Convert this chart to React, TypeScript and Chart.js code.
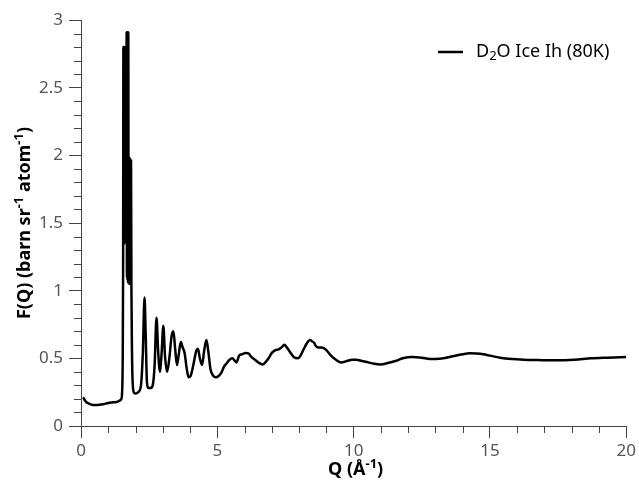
import React, { useEffect, useRef } from "react";
import { Chart, registerables } from "chart.js";

Chart.register(...registerables);

const SERIES_NAME = "D₂O Ice Ih (80K)";

const Q_VALUES = [
  0.07, 0.1, 0.14, 0.2, 0.3, 0.45, 0.6, 0.8, 1.0, 1.2, 1.35, 1.43, 1.48,
  1.51, 1.53, 1.545, 1.555, 1.565, 1.575, 1.585, 1.595, 1.605, 1.615, 1.625,
  1.635, 1.645, 1.655, 1.665, 1.675, 1.685, 1.695, 1.705, 1.715, 1.725, 1.735,
  1.745, 1.755, 1.765, 1.775, 1.785, 1.795, 1.805, 1.815, 1.825, 1.835, 1.85,
  1.87, 1.9, 1.95, 2.0, 2.1, 2.2, 2.27, 2.33, 2.37, 2.42, 2.47, 2.55, 2.63,
  2.7, 2.77, 2.83, 2.9, 2.96, 3.02, 3.08, 3.16, 3.25, 3.32, 3.39, 3.45, 3.52,
  3.58, 3.66, 3.73, 3.8, 3.88, 3.95, 4.02, 4.12, 4.22, 4.29, 4.36, 4.44, 4.52,
  4.6, 4.67, 4.75, 4.85, 4.95, 5.05, 5.14, 5.25, 5.33, 5.45, 5.55, 5.65, 5.7,
  5.8, 5.9, 6.05, 6.15, 6.25, 6.38, 6.5, 6.67, 6.8, 6.88, 7.0, 7.13, 7.25,
  7.35, 7.46, 7.55, 7.69, 7.8, 7.96, 8.05, 8.15, 8.28, 8.4, 8.48, 8.55, 8.62,
  8.7, 8.82, 8.9, 9.0, 9.17, 9.35, 9.54, 9.75, 9.95, 10.1, 10.3, 10.53, 10.75,
  11.0, 11.25, 11.53, 11.8, 12.15, 12.5, 12.8, 13.0, 13.3, 13.64, 14.0, 14.25,
  14.5, 14.75, 15.0, 15.37, 15.8, 16.23, 16.8, 17.48, 18.1, 18.72, 19.3, 20.0,
];

const F_VALUES = [
  0.21, 0.205, 0.19, 0.175, 0.165, 0.155, 0.155, 0.16, 0.17, 0.175, 0.18, 0.19, 0.2,
  0.26, 0.5, 1.2, 2.8, 1.34, 2.8, 1.36, 2.8, 1.35, 2.79, 1.4,
  2.8, 1.38, 2.81, 1.4, 2.91, 1.1, 2.91, 1.08, 2.9, 1.06, 2.91,
  1.06, 1.98, 1.05, 1.97, 1.06, 1.98, 1.05, 1.97, 1.08, 1.96, 1.0,
  0.55, 0.3, 0.245, 0.24, 0.25, 0.3, 0.55, 0.95, 0.7, 0.32, 0.28, 0.28, 0.3,
  0.45, 0.8, 0.55, 0.4, 0.55, 0.74, 0.52, 0.4, 0.52, 0.66, 0.7, 0.58, 0.45,
  0.52, 0.62, 0.58, 0.54, 0.42, 0.36, 0.37, 0.45, 0.55, 0.57, 0.5, 0.45, 0.56,
  0.635, 0.55, 0.42, 0.37, 0.36, 0.37, 0.39, 0.44, 0.46, 0.49, 0.5, 0.48, 0.47,
  0.52, 0.53, 0.54, 0.535, 0.51, 0.49, 0.47, 0.455, 0.48, 0.5, 0.54, 0.56, 0.567,
  0.58, 0.6, 0.58, 0.54, 0.51, 0.5, 0.52, 0.56, 0.61, 0.635, 0.625, 0.615, 0.59,
  0.58, 0.58, 0.575, 0.56, 0.52, 0.49, 0.47, 0.48, 0.49, 0.49, 0.48, 0.47, 0.46,
  0.455, 0.465, 0.48, 0.5, 0.51, 0.505, 0.495, 0.495, 0.5, 0.515, 0.53, 0.537,
  0.535, 0.53, 0.52, 0.505, 0.495, 0.49, 0.487, 0.485, 0.49, 0.5, 0.505, 0.51,
];

const X_TICKS = [0, 5, 10, 15, 20];
const Y_TICKS = [0, 0.5, 1, 1.5, 2, 2.5, 3];
const X_MINOR = [1, 2, 3, 4, 6, 7, 8, 9, 11, 12, 13, 14, 16, 17, 18, 19];
const Y_MINOR = [
  0.1, 0.2, 0.3, 0.4, 0.6, 0.7, 0.8, 0.9, 1.1, 1.2, 1.3, 1.4, 1.6, 1.7, 1.8,
  1.9, 2.1, 2.2, 2.3, 2.4, 2.6, 2.7, 2.8, 2.9,
];

const FONT = '"Noto Sans", "Open Sans", sans-serif';
const AXIS_COLOR = "#444";

type Run = { t: string; sup?: boolean; sub?: boolean };

function drawRuns(
  ctx: CanvasRenderingContext2D,
  runs: Run[],
  cx: number,
  cy: number,
  weight: string,
  size: number,
  center: boolean
) {
  const small = Math.round(size * 0.7);
  const fontFor = (r: Run) =>
    `${weight} ${r.sup || r.sub ? small : size}px ${FONT}`;
  let total = 0;
  for (const r of runs) {
    ctx.font = fontFor(r);
    total += ctx.measureText(r.t).width;
  }
  let x = center ? cx - total / 2 : cx;
  ctx.textBaseline = "middle";
  ctx.textAlign = "left";
  for (const r of runs) {
    ctx.font = fontFor(r);
    const dy = r.sup ? -size * 0.3 : r.sub ? size * 0.22 : 0;
    ctx.fillText(r.t, x, cy + dy);
    x += ctx.measureText(r.t).width;
  }
}

const decorPlugin = {
  id: "decor",
  afterDraw(chart: any) {
    const ctx: CanvasRenderingContext2D = chart.ctx;
    const xs = chart.scales.x;
    const ys = chart.scales.y;
    const area = chart.chartArea;
    ctx.save();
    ctx.strokeStyle = AXIS_COLOR;
    ctx.lineWidth = 1;
    ctx.beginPath();
    for (const v of Y_MINOR) {
      const py = Math.round(ys.getPixelForValue(v)) + 0.5;
      ctx.moveTo(area.left - 7, py);
      ctx.lineTo(area.left, py);
    }
    for (const v of X_MINOR) {
      const px = Math.round(xs.getPixelForValue(v)) + 0.5;
      ctx.moveTo(px, area.bottom);
      ctx.lineTo(px, area.bottom + 7);
    }
    ctx.stroke();

    ctx.fillStyle = "#000";
    drawRuns(
      ctx,
      [{ t: "Q (Å" }, { t: "-1", sup: true }, { t: ")" }],
      (area.left + area.right) / 2 + 2,
      470,
      "bold",
      18,
      true
    );
    ctx.save();
    ctx.translate(25, (area.top + area.bottom) / 2);
    ctx.rotate(-Math.PI / 2);
    drawRuns(
      ctx,
      [
        { t: "F(Q) (barn sr" },
        { t: "-1", sup: true },
        { t: " atom" },
        { t: "-1", sup: true },
        { t: ")" },
      ],
      0,
      0,
      "bold",
      18,
      true
    );
    ctx.restore();

    const ds = chart.data.datasets[0];
    ctx.strokeStyle = ds.borderColor;
    ctx.lineWidth = 2.5;
    ctx.beginPath();
    ctx.moveTo(438, 52);
    ctx.lineTo(463, 52);
    ctx.stroke();
    ctx.fillStyle = "#000";
    const name: string = ds.label;
    const i = name.indexOf("₂");
    drawRuns(
      ctx,
      [{ t: name.slice(0, i) }, { t: "2", sub: true }, { t: name.slice(i + 1) }],
      476,
      52,
      "normal",
      18,
      false
    );
    ctx.restore();
  },
};

export default function App() {
  const ref = useRef<HTMLCanvasElement | null>(null);

  useEffect(() => {
    if (!ref.current) return;
    const points = Q_VALUES.map((q, i) => ({ x: q, y: F_VALUES[i] }));
    const chart = new Chart(ref.current, {
      type: "line",
      data: {
        datasets: [
          {
            label: SERIES_NAME,
            data: points,
            borderColor: "#000",
            borderWidth: 2.5,
            pointRadius: 0,
            fill: false,
            cubicInterpolationMode: "monotone",
          },
        ],
      },
      options: {
        animation: false,
        responsive: false,
        devicePixelRatio: 1,
        layout: { padding: { top: 20, right: 11, left: 0, bottom: 0 } },
        plugins: {
          legend: { display: false },
          tooltip: { enabled: false },
        },
        scales: {
          x: {
            type: "linear",
            min: 0,
            max: 20,
            afterFit: (s: any) => {
              s.height = 56;
            },
            afterBuildTicks: (s: any) => {
              s.ticks = X_TICKS.map((v) => ({ value: v }));
            },
            grid: {
              display: true,
              drawOnChartArea: false,
              drawTicks: true,
              tickLength: 12,
              color: AXIS_COLOR,
            },
            border: { display: true, color: AXIS_COLOR, width: 1 },
            ticks: {
              padding: 3,
              color: "#555",
              font: { family: FONT, size: 17 },
              maxRotation: 0,
              callback: (v: any) => String(v),
            },
          },
          y: {
            type: "linear",
            min: 0,
            max: 3,
            afterFit: (s: any) => {
              s.width = 81;
            },
            afterBuildTicks: (s: any) => {
              s.ticks = Y_TICKS.map((v) => ({ value: v }));
            },
            grid: {
              display: true,
              drawOnChartArea: false,
              drawTicks: true,
              tickLength: 12,
              color: AXIS_COLOR,
            },
            border: { display: true, color: AXIS_COLOR, width: 1 },
            ticks: {
              padding: 6,
              color: "#555",
              font: { family: FONT, size: 17 },
              callback: (v: any) => String(v),
            },
          },
        },
      },
      plugins: [decorPlugin],
    });
    return () => chart.destroy();
  }, []);

  return (
    <div
      style={{
        position: "fixed",
        left: 0,
        top: 0,
        width: 639,
        height: 482,
        background: "#fff",
      }}
    >
      <canvas ref={ref} width={639} height={482} style={{ width: 639, height: 482 }} />
    </div>
  );
}
